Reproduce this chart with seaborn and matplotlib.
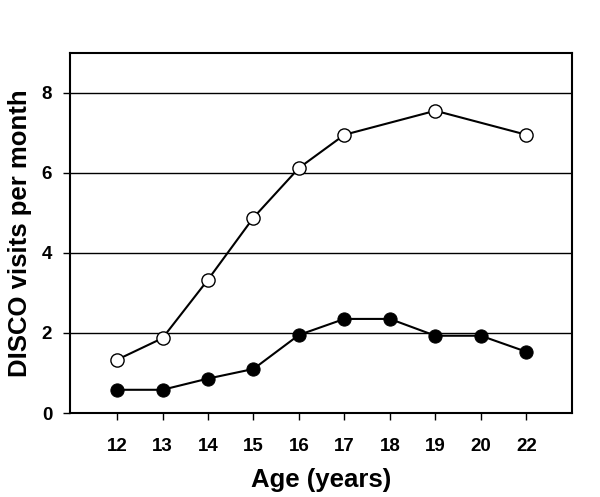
import numpy as np
import pandas as pd
import matplotlib
matplotlib.use("Agg")
import matplotlib.pyplot as plt
import seaborn as sns

# data
ages = ["12", "13", "14", "15", "16", "17", "18", "19", "20", "22"]
open_visits = [1.33, 1.87, 3.33, 4.88, 6.12, 6.95, np.nan, 7.55, np.nan, 6.95]
filled_visits = [0.58, 0.58, 0.86, 1.1, 1.95, 2.35, 2.35, 1.93, 1.93, 1.53]

sns.set_style("white")
plt.rcParams['font.family'] = ['Liberation Sans', 'DejaVu Sans']
plt.rcParams['text.color'] = 'black'
plt.rcParams['axes.labelcolor'] = 'black'

df = pd.DataFrame({
    'pos': np.arange(len(ages)),
    'open': open_visits,
    'filled': filled_visits,
})

fig = plt.figure(figsize=(6, 4.97), dpi=100)
ax = fig.add_axes([0.117, 0.169, 0.836, 0.725])

# grid lines behind the data
for y in [2, 4, 6, 8]:
    ax.axhline(y, color='black', lw=1.0, zorder=0)

d_open = df.dropna(subset=['open'])
sns.lineplot(data=d_open, x='pos', y='open', ax=ax, color='black', lw=1.5,
             marker='o', markersize=9.5, markerfacecolor='white',
             markeredgecolor='black', markeredgewidth=1.0, zorder=3)
sns.lineplot(data=df, x='pos', y='filled', ax=ax, color='black', lw=1.5,
             marker='o', markersize=9.5, markerfacecolor='black',
             markeredgecolor='black', zorder=3)

ax.set_xlim(-1.03, len(ages) - 0.0)
ax.set_ylim(0, 9)
ax.set_xticks(df['pos'])
ax.set_xticklabels(ages)
ax.set_yticks([0, 2, 4, 6, 8])
ax.set_yticklabels(['0', '2', '4', '6', '8'])

for s in ax.spines.values():
    s.set_visible(True)
    s.set_color('black')
    s.set_linewidth(1.5)

ax.tick_params(axis='both', direction='out', length=5, width=1, colors='black',
               labelsize=13.5, bottom=True, left=True)
ax.tick_params(axis='x', pad=13)
ax.tick_params(axis='y', pad=8)
for lab in ax.get_xticklabels() + ax.get_yticklabels():
    lab.set_fontweight('bold')

ax.set_xlabel('Age (years)', fontsize=18.5, fontweight='bold', labelpad=9)
ax.set_ylabel('DISCO visits per month', fontsize=18.5, fontweight='bold', labelpad=7)

fig.savefig('out.png', dpi=100)
